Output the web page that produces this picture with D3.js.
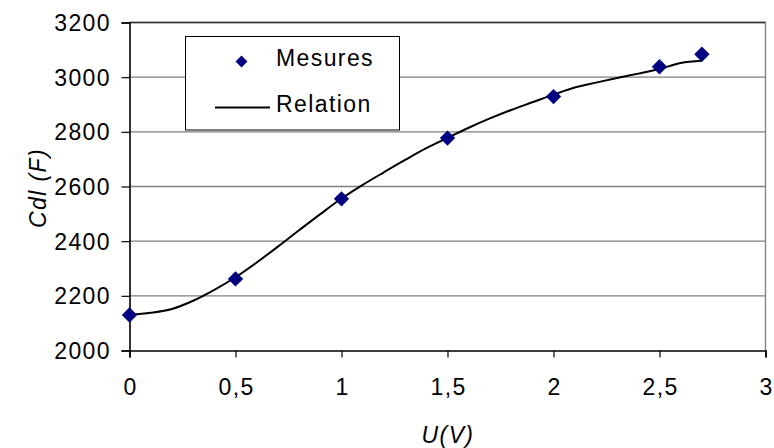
<!DOCTYPE html>
<html><head><meta charset="utf-8">
<script src="https://cdn.jsdelivr.net/npm/d3@7"></script>
<style>body{margin:0;background:#fff}svg{display:block}text{font-family:"Liberation Sans",Arial,sans-serif;fill:#000;letter-spacing:1.4px}</style>
</head><body>
<svg id="c" width="774" height="448"></svg>
<script>
const mesuresU = [0, 0.5, 1, 1.5, 2, 2.5, 2.7];
const mesuresC = [2130, 2262, 2555, 2777, 2929, 3038, 3084];
const relationU = [0,0.1,0.2,0.3,0.4,0.5,0.6,0.7,0.8,0.9,1.0,1.1,1.2,1.3,1.4,1.5,1.6,1.7,1.8,1.9,2.0,2.1,2.2,2.3,2.4,2.5,2.6,2.7];
const relationC = [2130,2138,2152,2182,2222,2268,2322,2380,2440,2499,2556,2606,2652,2697,2740,2778,2815,2849,2880,2908,2936,2962,2980,2997,3013,3030,3052,3060];
const xTicks = [0,0.5,1,1.5,2,2.5,3];
const yTicks = [2000,2200,2400,2600,2800,3000,3200];
const xLabel = "U(V)", yLabel = "Cdl (F)";
const legendLabels = ["Mesures","Relation"];

const svg = d3.select("#c");
const L=129.5, R=765.5, T=22.5, B=350.5;
const x = d3.scaleLinear().domain([0,3]).range([L,R]);
const y = d3.scaleLinear().domain([2000,3200]).range([B,T]);
const fmt = d => String(d).replace(".", ",");

// gridlines
svg.append("g").selectAll("line").data(yTicks.filter(d=>d>2000)).join("line")
  .attr("x1",L).attr("x2",R).attr("y1",d=>y(d)).attr("y2",d=>y(d))
  .attr("stroke","#7f7f7f").attr("stroke-width",1.3);
// borders
svg.append("line").attr("x1",R).attr("x2",R).attr("y1",T).attr("y2",B).attr("stroke","#7f7f7f").attr("stroke-width",1.3);
svg.append("line").attr("x1",L).attr("x2",R).attr("y1",T).attr("y2",T).attr("stroke","#333").attr("stroke-width",1.3);

// axes
const yAxis = d3.axisLeft(y).tickValues(yTicks).tickSize(8).tickPadding(10.5).tickFormat(d=>d);
const gy = svg.append("g").attr("transform",`translate(${L},0)`).call(yAxis);
const xAxis = d3.axisBottom(x).tickValues(xTicks).tickSize(7).tickPadding(21).tickFormat(fmt);
const gx = svg.append("g").attr("transform",`translate(0,${B})`).call(xAxis);
[gx,gy].forEach(g=>{
  g.select(".domain").attr("stroke","#000").attr("stroke-width",1.6);
  g.selectAll(".tick line").attr("stroke","#000").attr("stroke-width",1.2);
  g.selectAll(".tick text").attr("font-size",23).attr("font-family","Liberation Sans, Arial, sans-serif").attr("fill","#000");
});
gy.selectAll(".tick text").attr("dy","0.35em");
gx.selectAll(".tick text").attr("dx","0.7");

// axis titles
svg.append("text").attr("x",448).attr("y",443).attr("text-anchor","middle")
  .attr("font-size",23).attr("font-style","italic").text(xLabel);
svg.append("text").attr("transform","translate(46,188) rotate(-90)").attr("text-anchor","middle")
  .attr("font-size",23).attr("font-style","italic").text(yLabel);

// relation line
const rel = relationU.map((u,i)=>[u,relationC[i]]);
svg.append("path").datum(rel)
  .attr("d", d3.line().x(d=>x(d[0])).y(d=>y(d[1])).curve(d3.curveCatmullRom))
  .attr("fill","none").attr("stroke","#000").attr("stroke-width",2);

// markers
const diamond = d3.symbol().type(d3.symbolDiamond2).size(150);
svg.append("g").selectAll("path").data(mesuresU.map((u,i)=>[u,mesuresC[i]])).join("path")
  .attr("d",diamond).attr("transform",d=>`translate(${x(d[0])},${y(d[1])})`)
  .attr("fill","#000080");

// legend
const lg = svg.append("g");
lg.append("rect").attr("x",185.5).attr("y",36.5).attr("width",214).attr("height",93.5)
  .attr("fill","#fff").attr("stroke","#000").attr("stroke-width",1);
lg.append("path").attr("d",d3.symbol().type(d3.symbolDiamond2).size(90)).attr("transform","translate(241.5,61.5)").attr("fill","#000080");
lg.append("text").attr("x",276).attr("y",66).attr("font-size",23).text(legendLabels[0]);
lg.append("line").attr("x1",215).attr("x2",270).attr("y1",107.5).attr("y2",107.5).attr("stroke","#000").attr("stroke-width",2);
lg.append("text").attr("x",276).attr("y",111.5).attr("font-size",23).text(legendLabels[1]);
</script>
</body></html>
